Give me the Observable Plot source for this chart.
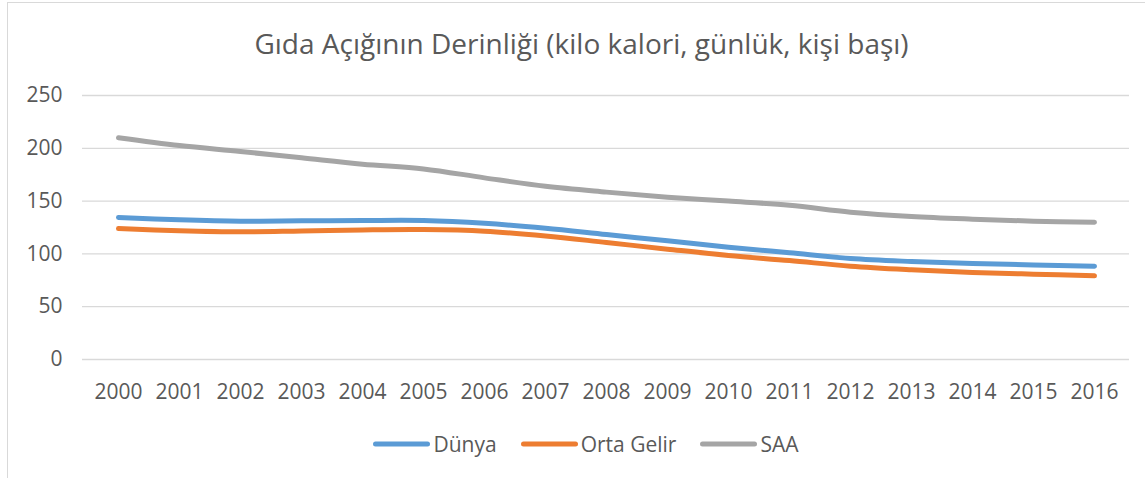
<!DOCTYPE html>
<html>
<head>
<meta charset="utf-8">
<script src="https://cdn.jsdelivr.net/npm/d3@7"></script>
<script src="https://cdn.jsdelivr.net/npm/@observablehq/plot@0.6"></script>
<style>
  html, body { margin: 0; padding: 0; background: #fff; }
  #frame { position: relative; width: 1145px; height: 478px; overflow: hidden; font-family: "Open Sans", sans-serif; color: #595959; }
  #border { position: absolute; left: 7px; top: 2px; width: 1200px; height: 600px; border-left: 1px solid #D9D9D9; border-top: 1px solid #D9D9D9; }
  #title { position: absolute; left: 0; top: 23px; width: 1145px; box-sizing: border-box; padding-left: 18px; text-align: center; font-size: 28px; line-height: 40px; color: #595959; }
  #chart { position: absolute; left: 0; top: 75px; }
  #legend { position: absolute; left: 0; top: 429px; width: 1145px; box-sizing: border-box; padding-left: 27px; display: flex; justify-content: center; font-size: 21px; line-height: 30px; color: #595959; }
  .item { display: flex; align-items: center; margin: 0 12px; }
  .item svg { margin-right: 3px; }
</style>
</head>
<body>
<div id="frame">
  <div id="border"></div>
  <div id="title">Gıda Açığının Derinliği (kilo kalori, günlük, kişi başı)</div>
  <div id="chart"></div>
  <div id="legend"></div>
</div>
<script>
const years = ["2000","2001","2002","2003","2004","2005","2006","2007","2008","2009","2010","2011","2012","2013","2014","2015","2016"];
const dunya = [134.5, 132.3, 131, 131.3, 131.6, 131.6, 129, 124.3, 118.3, 112.4, 106.4, 101, 95.6, 92.8, 90.9, 89.6, 88.4];
const ortaGelir = [124, 122, 121, 121.8, 122.7, 123, 121.5, 117, 110.8, 104.5, 98.5, 93.7, 88.4, 85, 82.4, 80.8, 79.2];
const saa = [210, 202.6, 197, 191, 185, 180.5, 172, 164, 158.5, 153.7, 150, 146, 139.5, 135.4, 132.9, 131, 130];
const yTicks = [0, 50, 100, 150, 200, 250];
const seriesNames = ["Dünya", "Orta Gelir", "SAA"];
const seriesColors = ["#5B9BD5", "#ED7D31", "#A5A5A5"];

const seriesValues = [dunya, ortaGelir, saa];
const data = [];
seriesNames.forEach((name, i) => {
  years.forEach((y, j) => data.push({year: y, value: seriesValues[i][j], series: name}));
});

const chart = Plot.plot({
  width: 1145,
  height: 335,
  marginLeft: 82,
  marginRight: 16,
  marginTop: 20,
  marginBottom: 51,
  style: {fontFamily: "Open Sans, sans-serif", fontSize: "21px", color: "#595959", background: "transparent"},
  x: {type: "point", domain: years, padding: 0.5, label: null},
  y: {domain: [0, 250], label: null},
  color: {domain: seriesNames, range: seriesColors},
  marks: [
    Plot.gridY(yTicks, {stroke: "#D9D9D9", strokeOpacity: 1, strokeWidth: 1.3}),
    Plot.axisX({tickSize: 0, tickPadding: 25, fill: "#595959", fontSize: 21, label: null}),
    Plot.axisY(yTicks, {tickSize: 0, tickPadding: 20, fill: "#595959", fontSize: 21, label: null}),
    Plot.line(data, {x: "year", y: "value", z: "series", stroke: "series", strokeWidth: 5, curve: "catmull-rom", strokeLinecap: "round", strokeLinejoin: "round"})
  ]
});
document.getElementById("chart").appendChild(chart);

const legend = document.getElementById("legend");
seriesNames.forEach((name, i) => {
  const item = document.createElement("div");
  item.className = "item";
  item.innerHTML = `<svg width="57" height="10"><line x1="2.5" y1="5" x2="54.5" y2="5" stroke="${seriesColors[i]}" stroke-width="5" stroke-linecap="round"/></svg><span>${name}</span>`;
  legend.appendChild(item);
});
</script>
</body>
</html>
